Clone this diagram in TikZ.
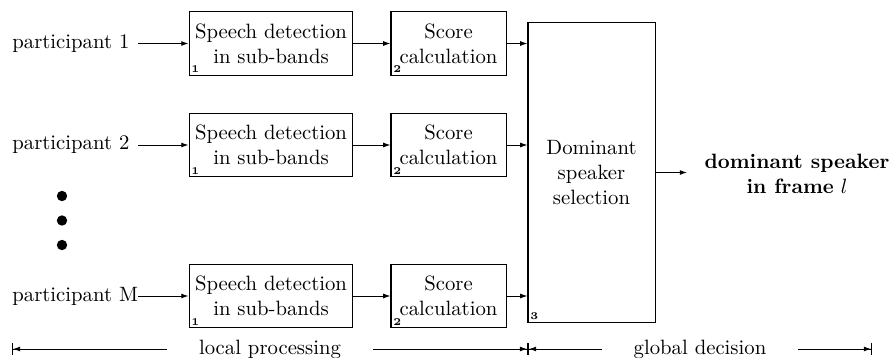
\documentclass[tikz,border=0pt]{standalone}
\usetikzlibrary{arrows.meta}
\begin{document}
\begin{tikzpicture}[x=0.4825pt,y=-0.4825pt,
  blk/.style={draw,line width=0.5pt,align=center,inner sep=0pt},
  detbox/.style={blk,minimum width=79.1pt,minimum height=30.6pt},
  scorebox/.style={blk,minimum width=55.5pt,minimum height=30.6pt},
  idx/.style={anchor=south west,inner sep=1.2pt,font=\tiny\bfseries},
  part/.style={anchor=west,inner sep=0pt},
  conn/.style={line width=0.45pt,-{Latex[length=3.5pt,width=2.4pt]}},
  dim/.style={line width=0.45pt,{Bar[width=6pt]Latex[length=3.5pt,width=2.4pt]}-{Latex[length=3.5pt,width=2.4pt]Bar[width=6pt]}},
  dimlabel/.style={fill=white,inner xsep=15.5pt,inner ysep=1pt}
]
\useasboundingbox (0,0) rectangle (892,357);

% big selection box
\node[blk,minimum width=61.3pt,minimum height=144.3pt] (sel) at (591.5,172.5) {Dominant\\speaker\\selection};
\node[idx] (n3) at (sel.south west) {3};

% rows
\foreach \r/\y/\lab in {1/43.5/participant 1, 2/145/participant 2, 3/296/participant M}{
  \node[part] (p\r) at (12,\y) {\lab};
  \coordinate (s\r) at (138,\y);
  \node[detbox] (d\r) at (271,\y) {Speech detection\\in sub-bands};
  \node[idx] (d\r n) at (d\r.south west) {1};
  \node[scorebox] (c\r) at (448.5,\y) {Score\\calculation};
  \node[idx] (c\r n) at (c\r.south west) {2};
  \draw[conn] (s\r) -- (d\r.west);
  \draw[conn] (d\r.east) -- (c\r.west);
  \draw[conn] (c\r.east) -- (c\r.east -| sel.west);
}

% dots
\fill (62,196) circle (2.5pt);
\fill (62,220.5) circle (2.5pt);
\fill (62,245) circle (2.5pt);

% output
\node[align=center,inner sep=0pt] (out) at (797,174) {\textbf{dominant speaker}\\\textbf{in frame} $l$};
\coordinate (oe) at (687,172.5);
\draw[conn] (sel.east) -- (oe);

% dimension lines
\coordinate (dl) at (12,349);
\coordinate (dm) at (528,349);
\coordinate (dr) at (872,349);
\draw[dim] (dl) -- node[dimlabel] (lp) {local processing} (dm);
\draw[dim] (dm) -- node[dimlabel] (gd) {global decision} (dr);
\end{tikzpicture}
\end{document}
